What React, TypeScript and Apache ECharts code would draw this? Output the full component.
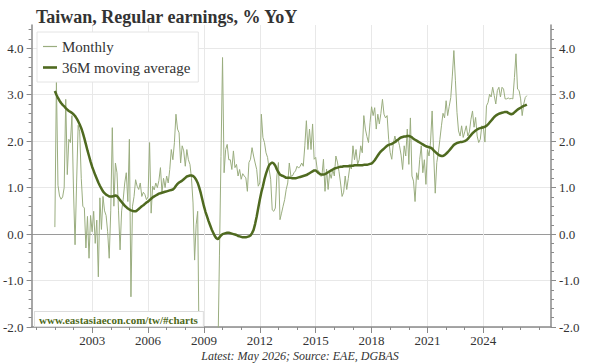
import { useEffect, useRef } from "react";
import * as echarts from "echarts";

// Monthly series starts in January of this year
const START_YEAR = 2001;

// Regular earnings, % YoY, monthly (Jan 2001 – May 2026)
const monthlyYoY = [
  0.15, 3.3, 1.05, 0.82, 0.75, 0.8, 1.0, 2.9, 1.28, 2.04, 1.97, 2.55, // 2001
  0.95, -0.23, 1.1, 2.34, 2.2, 1.2, 0.6, 0.56, -0.3, 0.38, -0.52, 0.4, // 2002
  0.05, 0.49, -0.2, 0.3, -0.92, 0.78, 0.1, 0.81, 0.5, 0.4, 0.05, -0.52, // 2003
  0.5, 2.29, 0.6, 1.53, 1.32, 0.5, -0.34, 0.5, 0.74, 1.1, 1.32, 0.7, // 2004
  2.04, -1.35, 0.6, 0.81, 1.17, 1.03, 0.96, 1.1, 0.81, 0.9, 0.85, 0.74, // 2005
  0.8, 1.97, 0.45, 1.03, 0.95, 1.1, 1.0, 1.15, 1.43, 0.9, 1.2, 1.0, // 2006
  1.25, 1.1, 1.39, 1.82, 1.6, 1.97, 2.58, 2.26, 2.18, 1.53, 1.9, 1.79, // 2007
  1.46, 1.82, 1.6, 1.5, 1.2, 0.67, -0.56, 0.2, 0.49, -2.8, -4.2, -4.8, // 2008
  -5.0, -5.6, -5.2, -4.8, -4.5, -4.2, -4.0, -3.7, -3.3, -2.6, -0.47, 1.67, // 2009
  3.8, 1.32, 1.82, 1.93, 1.6, 1.6, 1.39, 1.79, 1.43, 1.5, 1.25, 1.39, // 2010
  1.18, 1.3, 1.25, 1.21, 0.92, 1.54, 1.61, 1.86, 1.68, 1.53, 1.39, 1.03, // 2011
  1.1, 2.58, 2.08, 1.97, 1.75, 1.65, 1.4, 1.18, 0.52, 0.49, 0.56, 1.25, // 2012
  1.54, 0.31, 0.45, 0.6, 0.74, 0.96, 1.1, 1.53, 1.25, 1.25, 1.32, 1.36, // 2013
  1.46, 1.42, 1.46, 1.53, 1.46, 1.9, 2.44, 1.82, 2.26, 1.82, 2.37, 1.61, // 2014
  1.65, 1.39, 1.35, 1.25, 1.25, 1.61, 0.92, 1.4, 0.96, 1.32, 1.2, 1.39, // 2015
  1.25, 1.68, 1.55, 1.35, 1.1, 0.81, 0.9, 1.25, 0.96, 1.2, 1.46, 1.4, // 2016
  1.9, 1.6, 1.82, 1.5, 1.6, 1.9, 1.75, 2.55, 2.26, 2.1, 1.97, 2.4, // 2017
  2.74, 2.55, 2.72, 2.26, 2.58, 2.37, 2.6, 2.9, 2.58, 2.5, 2.55, 2.04, // 2018
  1.75, 1.61, 1.95, 2.11, 1.97, 2.04, 1.9, 1.7, 1.39, 1.9, 1.68, 2.26, // 2019
  1.5, 2.5, 1.25, 1.14, 0.7, 1.32, 1.17, 1.61, 1.9, 1.32, 1.6, 1.07, // 2020
  1.82, 1.68, 2.0, 2.65, 1.7, 0.88, 1.54, 1.75, 2.04, 2.33, 2.6, 2.5, // 2021
  2.87, 2.55, 2.75, 2.94, 3.4, 3.95, 3.3, 2.62, 2.22, 2.11, 2.33, 2.08, // 2022
  2.2, 2.33, 2.11, 2.2, 2.47, 2.65, 2.3, 2.51, 2.11, 1.97, 2.04, 2.33, // 2023
  2.3, 1.98, 2.76, 2.83, 3.01, 2.95, 3.16, 2.98, 2.8, 3.09, 3.16, 2.95, // 2024
  3.16, 3.12, 2.91, 2.91, 2.93, 2.91, 2.92, 2.91, 3.37, 3.88, 3.12, 3.09, // 2025
  2.91, 2.55, 2.8, 2.94, 2.98, // 2026
];

// 36-month moving average, same months
const movingAvg36 = [
  3.08, 3.0, 2.93, 2.87, 2.82, 2.78, 2.75, 2.71, 2.68, 2.65, 2.63, 2.61, // 2001
  2.58, 2.54, 2.49, 2.43, 2.36, 2.28, 2.18, 2.06, 1.93, 1.8, 1.68, 1.56, // 2002
  1.45, 1.36, 1.27, 1.19, 1.11, 1.04, 0.98, 0.92, 0.88, 0.85, 0.83, 0.81, // 2003
  0.81, 0.81, 0.82, 0.83, 0.82, 0.78, 0.73, 0.69, 0.65, 0.61, 0.58, 0.55, // 2004
  0.53, 0.51, 0.5, 0.49, 0.49, 0.51, 0.54, 0.57, 0.6, 0.62, 0.65, 0.68, // 2005
  0.7, 0.73, 0.76, 0.79, 0.81, 0.83, 0.85, 0.87, 0.88, 0.89, 0.9, 0.91, // 2006
  0.92, 0.93, 0.94, 0.95, 0.96, 0.99, 1.04, 1.08, 1.11, 1.13, 1.15, 1.18, // 2007
  1.21, 1.24, 1.25, 1.26, 1.26, 1.25, 1.22, 1.17, 1.1, 1.0, 0.88, 0.74, // 2008
  0.6, 0.48, 0.38, 0.28, 0.19, 0.1, 0.03, -0.04, -0.09, -0.11, -0.07, -0.03, // 2009
  0.0, 0.01, 0.02, 0.03, 0.03, 0.02, 0.01, 0.0, -0.01, -0.02, -0.04, -0.05, // 2010
  -0.06, -0.07, -0.07, -0.07, -0.06, -0.05, -0.03, 0.02, 0.09, 0.22, 0.38, 0.56, // 2011
  0.74, 0.9, 1.03, 1.18, 1.3, 1.4, 1.48, 1.52, 1.54, 1.52, 1.47, 1.39, // 2012
  1.33, 1.28, 1.26, 1.25, 1.23, 1.21, 1.21, 1.21, 1.21, 1.2, 1.2, 1.2, // 2013
  1.21, 1.22, 1.23, 1.24, 1.25, 1.26, 1.27, 1.29, 1.31, 1.33, 1.35, 1.37, // 2014
  1.37, 1.34, 1.31, 1.29, 1.28, 1.28, 1.29, 1.31, 1.33, 1.35, 1.37, 1.39, // 2015
  1.41, 1.42, 1.43, 1.44, 1.45, 1.45, 1.46, 1.46, 1.46, 1.46, 1.47, 1.47, // 2016
  1.47, 1.48, 1.48, 1.48, 1.48, 1.48, 1.48, 1.49, 1.49, 1.49, 1.5, 1.51, // 2017
  1.52, 1.55, 1.59, 1.64, 1.69, 1.74, 1.78, 1.81, 1.84, 1.87, 1.9, 1.92, // 2018
  1.93, 1.94, 1.96, 1.98, 2.01, 2.03, 2.06, 2.08, 2.09, 2.1, 2.1, 2.11, // 2019
  2.11, 2.1, 2.08, 2.05, 2.03, 2.01, 1.99, 1.97, 1.95, 1.93, 1.91, 1.89, // 2020
  1.88, 1.87, 1.86, 1.84, 1.8, 1.77, 1.74, 1.71, 1.69, 1.68, 1.68, 1.7, // 2021
  1.73, 1.76, 1.8, 1.84, 1.88, 1.92, 1.94, 1.96, 1.97, 1.98, 1.98, 1.99, // 2022
  2.0, 2.02, 2.05, 2.09, 2.13, 2.17, 2.2, 2.23, 2.25, 2.27, 2.28, 2.29, // 2023
  2.3, 2.31, 2.33, 2.36, 2.4, 2.44, 2.48, 2.52, 2.55, 2.57, 2.59, 2.6, // 2024
  2.61, 2.62, 2.63, 2.63, 2.61, 2.59, 2.58, 2.59, 2.62, 2.65, 2.68, 2.7, // 2025
  2.72, 2.74, 2.76, 2.77, 2.79, // 2026
];

// Axis ticks and labels
const labelYears = [2003, 2006, 2009, 2012, 2015, 2018, 2021, 2024];
const yearTicks = [
  2000, 2001, 2002, 2003, 2004, 2005, 2006, 2007, 2008, 2009, 2010, 2011, 2012, 2013,
  2014, 2015, 2016, 2017, 2018, 2019, 2020, 2021, 2022, 2023, 2024, 2025, 2026, 2027,
];
const yMajorTicks = [-2, -1, 0, 1, 2, 3, 4];
const yMinorTicks = [
  -1.8, -1.6, -1.4, -1.2, -0.8, -0.6, -0.4, -0.2, 0.2, 0.4, 0.6, 0.8, 1.2, 1.4, 1.6,
  1.8, 2.2, 2.4, 2.6, 2.8, 3.2, 3.4, 3.6, 3.8, 4.2, 4.4,
];

const X_MIN = 1999.75;
const X_MAX = 2027.63;
const Y_MIN = -2;
const Y_MAX = 4.5;

const FONT = '"Liberation Serif", "DejaVu Serif", serif';
const AXIS_GRAY = "#8a8a8a";
const GRID_GRAY = "#e8e8e8";
const LIGHT_GREEN = "#9aad7f";
const DARK_GREEN = "#4f6a20";
const TEXT = "#333333";

// Legend keys drawn as short horizontal strokes
const THIN_KEY = "path://M0,0 L14,0 L14,1.2 L0,1.2 Z";
const THICK_KEY = "path://M0,0 L14,0 L14,2.6 L0,2.6 Z";

const toPoints = (values: number[]) =>
  values.map((v, i) => [START_YEAR + i / 12, v]);

export default function App() {
  const ref = useRef<HTMLDivElement>(null);

  useEffect(() => {
    if (!ref.current) return;
    const chart = echarts.init(ref.current, undefined, { renderer: "svg" });

    const axisLine = { show: true, onZero: false, lineStyle: { color: AXIS_GRAY, width: 1.5 } };
    const tickLine = { color: AXIS_GRAY, width: 1 };
    const yLabel = {
      fontFamily: FONT,
      fontSize: 13,
      color: TEXT,
      margin: 8,
      customValues: yMajorTicks,
      formatter: (v: number) => v.toFixed(1),
    };

    chart.setOption({
      animation: false,
      backgroundColor: "#ffffff",
      title: {
        text: "Taiwan, Regular earnings, % YoY",
        left: 31,
        top: 3,
        textStyle: { fontFamily: FONT, fontSize: 18, fontWeight: "bold", color: TEXT },
      },
      legend: {
        orient: "vertical",
        left: 37,
        top: 32,
        padding: [7, 8, 7, 6],
        itemGap: 6,
        itemWidth: 14,
        itemHeight: 14,
        backgroundColor: "#ffffff",
        borderColor: "#e4e4e4",
        borderWidth: 1,
        textStyle: { fontFamily: FONT, fontSize: 15, color: TEXT },
        data: [
          { name: "Monthly", icon: THIN_KEY },
          { name: "36M moving average", icon: THICK_KEY },
        ],
      },
      grid: { left: 31, right: 49, top: 25, bottom: 37 },
      xAxis: [
        {
          type: "value",
          min: X_MIN,
          max: X_MAX,
          position: "bottom",
          axisLine,
          axisTick: { show: true, length: 6, customValues: labelYears, lineStyle: tickLine },
          axisLabel: {
            customValues: labelYears,
            fontFamily: FONT,
            fontSize: 13,
            color: TEXT,
            margin: 7,
            formatter: (v: number) => String(Math.round(v)),
          },
          splitLine: { show: true, lineStyle: { color: GRID_GRAY, width: 1 } },
        },
        {
          type: "value",
          min: X_MIN,
          max: X_MAX,
          position: "bottom",
          axisLine: { show: false, onZero: false },
          axisTick: { show: true, length: 3, customValues: yearTicks, lineStyle: tickLine },
          axisLabel: { show: false },
          splitLine: { show: false },
        },
      ],
      yAxis: [
        {
          type: "value",
          min: Y_MIN,
          max: Y_MAX,
          position: "left",
          axisLine,
          axisTick: { show: true, length: 5, customValues: yMajorTicks, lineStyle: tickLine },
          axisLabel: yLabel,
          splitLine: {
            show: true,
            lineStyle: {
              width: 1,
              color: [GRID_GRAY, GRID_GRAY, "#9a9a9a", GRID_GRAY, GRID_GRAY, GRID_GRAY, GRID_GRAY, "rgba(0,0,0,0)"],
            },
          },
        },
        {
          type: "value",
          min: Y_MIN,
          max: Y_MAX,
          position: "right",
          axisLine,
          axisTick: { show: true, length: 5, customValues: yMajorTicks, lineStyle: tickLine },
          axisLabel: yLabel,
          splitLine: { show: false },
        },
        {
          type: "value",
          min: Y_MIN,
          max: Y_MAX,
          position: "left",
          axisLine: { show: false, onZero: false },
          axisTick: { show: true, length: 3, customValues: yMinorTicks, lineStyle: tickLine },
          axisLabel: { show: false },
          splitLine: { show: false },
        },
        {
          type: "value",
          min: Y_MIN,
          max: Y_MAX,
          position: "right",
          axisLine: { show: false, onZero: false },
          axisTick: { show: true, length: 3, customValues: yMinorTicks, lineStyle: tickLine },
          axisLabel: { show: false },
          splitLine: { show: false },
        },
      ],
      series: [
        {
          name: "Monthly",
          type: "line",
          xAxisIndex: 0,
          yAxisIndex: 0,
          data: toPoints(monthlyYoY),
          symbol: "none",
          clip: true,
          color: LIGHT_GREEN,
          lineStyle: { color: LIGHT_GREEN, width: 1 },
          z: 2,
        },
        {
          name: "36M moving average",
          type: "line",
          xAxisIndex: 0,
          yAxisIndex: 0,
          data: toPoints(movingAvg36),
          symbol: "none",
          clip: true,
          color: DARK_GREEN,
          lineStyle: { color: DARK_GREEN, width: 2.5 },
          z: 3,
        },
      ],
      graphic: [
        {
          type: "text",
          left: 34,
          top: 311,
          z: 10,
          style: {
            text: "www.eastasiaecon.com/tw/#charts",
            font: `bold 11px ${FONT}`,
            fill: DARK_GREEN,
            backgroundColor: "#ffffff",
            borderColor: "#dddddd",
            borderWidth: 1,
            padding: [2, 5, 1, 4],
          },
        },
        {
          type: "text",
          left: "center",
          top: 350,
          z: 10,
          style: {
            text: "Latest: May 2026; Source: EAE, DGBAS",
            font: `italic 12px ${FONT}`,
            fill: TEXT,
          },
        },
      ],
    });

    return () => chart.dispose();
  }, []);

  return (
    <div
      ref={ref}
      style={{ position: "fixed", left: 0, top: 0, width: 600, height: 364, background: "#fff" }}
    />
  );
}
